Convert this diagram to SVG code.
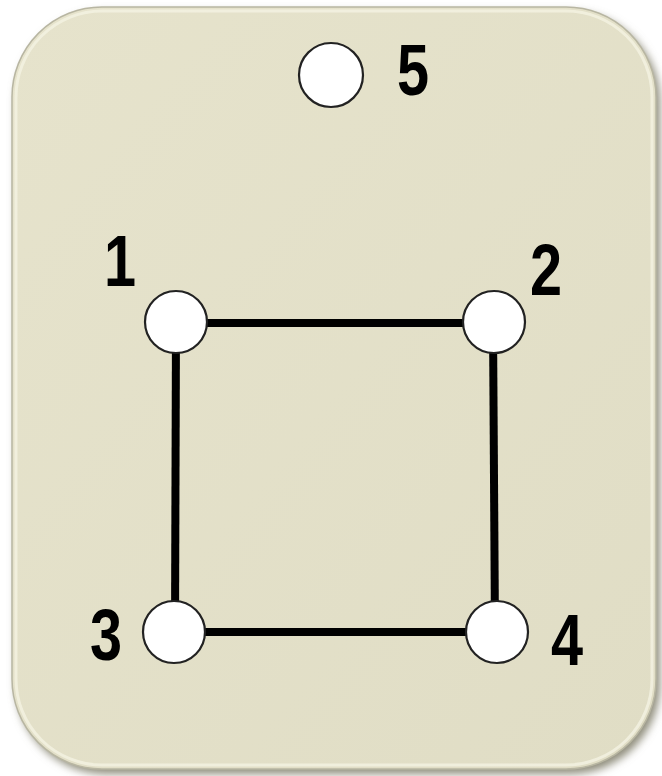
<svg xmlns="http://www.w3.org/2000/svg" width="662" height="776" viewBox="0 0 662 776">
<defs>
<style>
.edge{stroke:#000;stroke-width:8;stroke-linecap:butt;fill:none}
.node{fill:#fff;stroke:#222;stroke-width:2.2}
.lbl{font-family:"Liberation Sans",Arial,sans-serif;font-weight:bold;font-size:72px;fill:#000}
</style>
<linearGradient id="bg" x1="0" y1="0" x2="1" y2="1">
<stop offset="0" stop-color="#E6E3CC"/>
<stop offset="1" stop-color="#E0DDC5"/>
</linearGradient>
<filter id="sh" x="-10%" y="-10%" width="120%" height="120%">
<feGaussianBlur stdDeviation="4"/>
</filter>
</defs>
<rect width="662" height="776" fill="#fff"/>
<rect x="16" y="12" width="644" height="762" rx="90" ry="90" fill="#8f8d7c" filter="url(#sh)"/>
<rect x="12" y="7" width="644" height="762" rx="90" ry="90" fill="url(#bg)" stroke="#b8b6a2" stroke-width="1.5"/>
<rect x="16" y="11" width="636" height="754" rx="86" ry="86" fill="none" stroke="#f4f2e2" stroke-width="3" opacity="0.8"/>
<g id="connectors">
<line class="edge" x1="176" y1="323" x2="493" y2="323"/>
<line class="edge" x1="176" y1="323" x2="175" y2="632"/>
<line class="edge" x1="493" y1="323" x2="495" y2="632"/>
<line class="edge" x1="175" y1="632" x2="495" y2="632"/>
</g>
<g id="node5"><circle class="node" cx="331" cy="75" r="32"/><text class="lbl" transform="translate(397,95) scale(0.8,1)">5</text></g>
<g id="node1"><circle class="node" cx="176" cy="322" r="31"/><text class="lbl" transform="translate(104,286) scale(0.8,1)">1</text></g>
<g id="node2"><circle class="node" cx="494" cy="322" r="31"/><text class="lbl" transform="translate(530,295) scale(0.8,1)">2</text></g>
<g id="node3"><circle class="node" cx="174" cy="632" r="31"/><text class="lbl" transform="translate(90,660) scale(0.8,1)">3</text></g>
<g id="node4"><circle class="node" cx="497" cy="632" r="31"/><text class="lbl" transform="translate(551,665) scale(0.8,1)">4</text></g>
</svg>
